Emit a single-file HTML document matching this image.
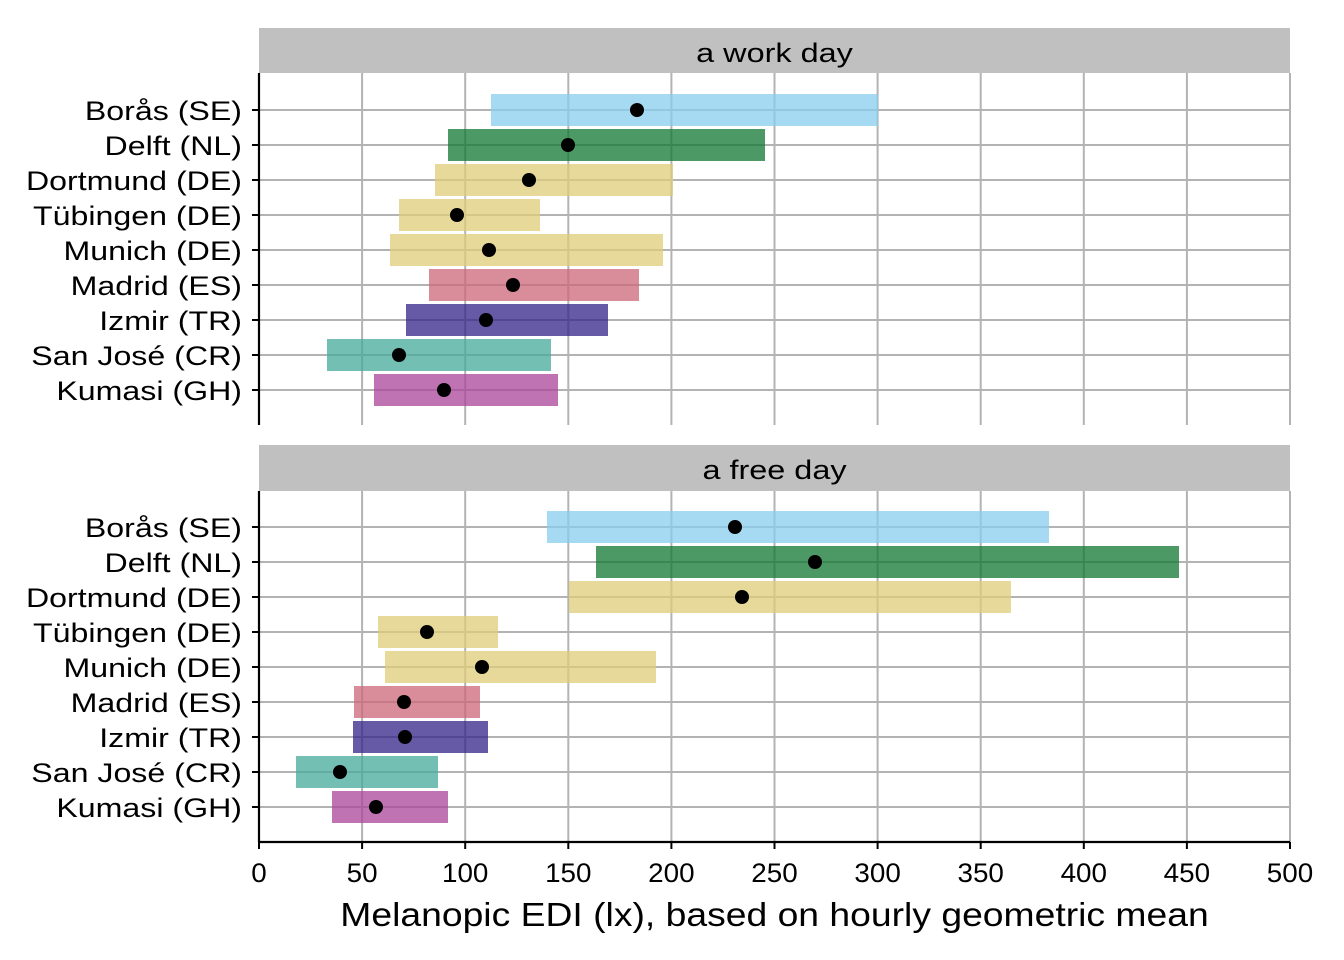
<!DOCTYPE html>
<html><head><meta charset="utf-8"><style>body{margin:0;background:#fff}svg{display:block}text{font-family:"Liberation Sans",Arial,sans-serif;fill:#000}</style></head><body>
<svg width="1344" height="960" xmlns="http://www.w3.org/2000/svg">
<g id="p"></g>
<script>
const NS="http://www.w3.org/2000/svg",g=document.getElementById('p');
function el(t,a,txt){const e=document.createElementNS(NS,t);for(const k in a)e.setAttribute(k,a[k]);if(txt!==undefined)e.textContent=txt;g.appendChild(e);return e;}
function txt(a,s,fs,ratio){const e=el('text',Object.assign({'font-size':fs},a),s);const L=e.getComputedTextLength();e.setAttribute('textLength',L*ratio);e.setAttribute('lengthAdjust','spacingAndGlyphs');return e;}
const names=["Borås (SE)","Delft (NL)","Dortmund (DE)","Tübingen (DE)","Munich (DE)","Madrid (ES)","Izmir (TR)","San José (CR)","Kumasi (GH)"];
const cols=["#88ccee","#117733","#ddcc77","#ddcc77","#ddcc77","#cc6677","#332288","#44aa99","#aa4499"];
const panels=[
 {strip:[28,73],top:73,bot:425,y0:110,title:"a work day",
  d:[[491,878,637],[448,765,568],[435,673,529],[399,540,457],[390,663,489],[429,639,513],[406,608,486],[327,551,399],[374,558,444]]},
 {strip:[445,491],top:491,bot:842,y0:527,title:"a free day",
  d:[[547,1049,735],[596,1179,815],[569,1011,742],[378,498,427],[385,656,482],[354,480,404],[353,488,405],[296,438,340],[332,448,376]]}];
panels.forEach(P=>{
 el('rect',{x:259,y:P.strip[0],width:1031,height:P.strip[1]-P.strip[0],fill:'#c0c0c0'});
 txt({x:774.5,y:P.strip[0]+34,'text-anchor':'middle'},P.title,27,1.2);
 for(let k=0;k<=10;k++){const x=259+k*103.1;el('line',{x1:x,x2:x,y1:P.top,y2:P.bot,stroke:'#b3b3b3','stroke-width':2});}
 for(let i=0;i<9;i++){const y=P.y0+i*35;el('line',{x1:259,x2:1290,y1:y,y2:y,stroke:'#b3b3b3','stroke-width':2});}
 P.d.forEach((r,i)=>{const y=P.y0+i*35;
  el('rect',{x:r[0],y:y-16,width:r[1]-r[0],height:32,fill:cols[i],'fill-opacity':0.75});
  el('circle',{cx:r[2],cy:y,r:7,fill:'#000'});
  el('line',{x1:252,x2:259,y1:y,y2:y,stroke:'#000','stroke-width':2});
  txt({x:242,y:y+10,'text-anchor':'end'},names[i],27,1.19);
 });
 el('line',{x1:259,x2:259,y1:P.top,y2:P.bot,stroke:'#000','stroke-width':2.2});
});
el('line',{x1:259,x2:1290,y1:842,y2:842,stroke:'#000','stroke-width':2.2});
for(let k=0;k<=10;k++){const x=259+k*103.1;el('line',{x1:x,x2:x,y1:842,y2:849,stroke:'#000','stroke-width':2});
 txt({x:x,y:882,'text-anchor':'middle'},String(k*50),27,1.03);}
txt({x:774.5,y:926,'text-anchor':'middle'},"Melanopic EDI (lx), based on hourly geometric mean",33,1.13);
</script>
</svg>
</body></html>
